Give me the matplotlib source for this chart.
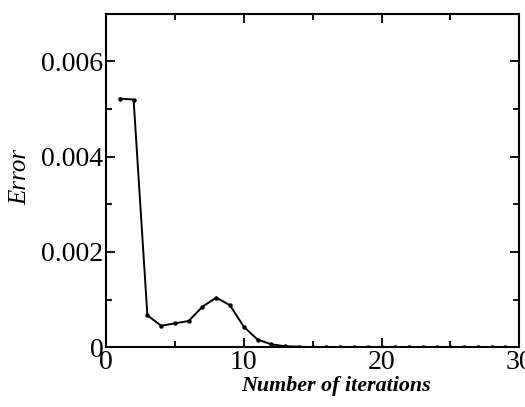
import matplotlib.pyplot as plt
from matplotlib.ticker import MultipleLocator

# DATA
iterations = list(range(1, 31))
error = [0.00522, 0.00520, 0.00067, 0.00045, 0.00050, 0.00055, 0.00085, 0.00104,
         0.00088, 0.00043, 0.00016, 0.00006, 0.00002, 0.00001, 0.0, 0.0,
         0.0, 0.0, 0.0, 0.0, 0.0, 0.0, 0.0, 0.0,
         0.0, 0.0, 0.0, 0.0, 0.0, 0.0]
x_ticks = [0, 10, 20, 30]
y_ticks = [0, 0.002, 0.004, 0.006]
y_labels = ['0', '0.002', '0.004', '0.006']

plt.rcParams['font.family'] = ['Liberation Serif', 'DejaVu Serif']

fig = plt.figure(figsize=(5.25, 4.07), dpi=100)
ax = fig.add_axes([0.202, 0.147, 0.787, 0.819])

ax.plot(iterations, error, color='black', linewidth=1.4,
        marker='o', markersize=2.2)

ax.set_xlim(0, 30)
ax.set_ylim(0, 0.007)
ax.set_xticks(x_ticks)
ax.set_yticks(y_ticks)
ax.set_yticklabels(y_labels)
ax.xaxis.set_minor_locator(MultipleLocator(5))
ax.yaxis.set_minor_locator(MultipleLocator(0.001))

ax.tick_params(which='both', direction='in', top=True, right=True,
               labelsize=20, width=1.3, pad=2)
ax.tick_params(which='major', length=6.5)
ax.tick_params(which='minor', length=4)
for s in ax.spines.values():
    s.set_linewidth(1.5)

ax.set_xlabel('Number of iterations', fontsize=15.8, fontstyle='italic',
              fontweight='bold', labelpad=2)
ax.xaxis.set_label_coords(0.557, -0.085)
ax.set_ylabel('Error', fontsize=18, fontstyle='italic')
ax.yaxis.set_label_coords(-0.18, 0.51)

fig.savefig('out.png', dpi=100)
